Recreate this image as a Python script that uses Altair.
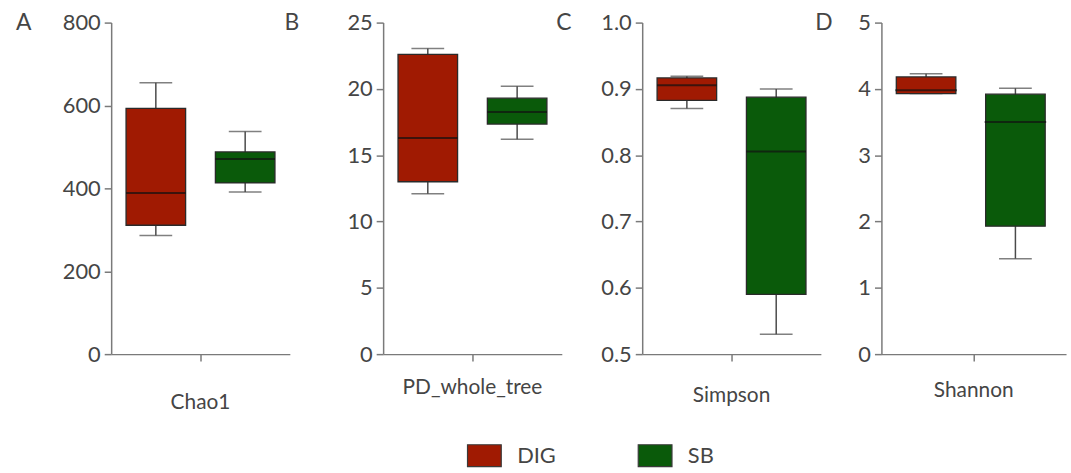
import altair as alt
import pandas as pd

groups = ["DIG", "SB"]
colors = ["#A01A02", "#0A5A0A"]

metrics = ["Chao1", "PD_whole_tree", "Simpson", "Shannon"]
letters = ["A", "B", "C", "D"]

# box-plot statistics per metric, order [DIG, SB]
chao1_low = [286, 391]
chao1_q1 = [311, 413]
chao1_med = [389, 471]
chao1_q3 = [593, 488]
chao1_high = [655, 537]

pd_low = [12.1, 16.2]
pd_q1 = [13.0, 17.35]
pd_med = [16.3, 18.25]
pd_q3 = [22.6, 19.3]
pd_high = [23.05, 20.2]

simpson_low = [0.8705, 0.53]
simpson_q1 = [0.8826, 0.590]
simpson_med = [0.9055, 0.8056]
simpson_q3 = [0.9166, 0.8875]
simpson_high = [0.919, 0.900]

shannon_low = [3.93, 1.44]
shannon_q1 = [3.93, 1.93]
shannon_med = [3.98, 3.50]
shannon_q3 = [4.18, 3.92]
shannon_high = [4.23, 4.01]

# axis settings per panel
y_domains = [[0, 800], [0, 25], [0.5, 1.0], [0, 5]]
y_ticks = [[0, 200, 400, 600, 800], [0, 5, 10, 15, 20, 25],
           [0.5, 0.6, 0.7, 0.8, 0.9, 1.0], [0, 1, 2, 3, 4, 5]]
y_formats = ["d", "d", ".1f", "d"]

stats = [
    (chao1_low, chao1_q1, chao1_med, chao1_q3, chao1_high),
    (pd_low, pd_q1, pd_med, pd_q3, pd_high),
    (simpson_low, simpson_q1, simpson_med, simpson_q3, simpson_high),
    (shannon_low, shannon_q1, shannon_med, shannon_q3, shannon_high),
]

FONT = "Lato"
TXT = "#454545"
AX = "#7a7a7a"

widths = [180, 180, 180, 186]
letter_dx = [-88, -92, -79, -58]
label_pads = [31, 16, 24, 19]
H = 334


def panel(i):
    low, q1, med, q3, high = stats[i]
    df = pd.DataFrame({
        "metric": [metrics[i]] * 2,
        "group": groups,
        "low": low, "q1": q1, "med": med, "q3": q3, "high": high,
    })
    w = widths[i]
    bw = w / 2 * 2 / 3
    yscale = alt.Scale(domain=y_domains[i], nice=False, zero=False)
    yaxis = alt.Axis(values=y_ticks[i], format=y_formats[i], grid=False, title=None,
                     labelFont=FONT, labelFontSize=22, labelColor=TXT, labelPadding=4,
                     tickSize=7, tickColor=AX, tickWidth=1.5,
                     domainColor=AX, domainWidth=1.5)
    xaxis = alt.Axis(title=None, labelAngle=0, labelFont=FONT, labelFontSize=21,
                     labelColor=TXT, labelPadding=label_pads[i], tickSize=7,
                     tickColor=AX, tickWidth=1.5, domainColor=AX, domainWidth=1.5)
    base = alt.Chart(df).encode(
        x=alt.X("metric:N", axis=xaxis,
                scale=alt.Scale(paddingInner=0, paddingOuter=0)),
        xOffset=alt.XOffset("group:N",
                            scale=alt.Scale(domain=groups, paddingInner=1 / 3,
                                            paddingOuter=1 / 6)),
    )
    whisker = base.mark_rule(color="#4a4a4a", strokeWidth=1.5).encode(
        y=alt.Y("low:Q", scale=yscale, axis=yaxis), y2="high:Q")
    cap_hi = base.mark_tick(color="#4a4a4a", thickness=1.5, size=33).encode(y="high:Q")
    cap_lo = base.mark_tick(color="#4a4a4a", thickness=1.5, size=33).encode(y="low:Q")
    box = base.mark_bar(stroke="#2a2a2a", strokeWidth=1.3, opacity=1).encode(
        y="q1:Q", y2="q3:Q",
        color=alt.Color("group:N",
                        scale=alt.Scale(domain=groups, range=colors),
                        legend=alt.Legend(
                            title=None, orient="none", direction="horizontal",
                            legendX=358, legendY=418,
                            symbolType="M-1,-0.647L1,-0.647L1,0.647L-1,0.647Z",
                            symbolSize=1156, symbolStrokeColor="#3a3a3a",
                            symbolStrokeWidth=1.2, symbolOpacity=1,
                            labelFont=FONT, labelFontSize=22, labelColor=TXT,
                            labelOffset=15, columnPadding=80)))
    median = base.mark_tick(color="#111111", thickness=2, size=bw).encode(y="med:Q")
    letter = alt.Chart(pd.DataFrame({"t": [letters[i]]})).mark_text(
        font=FONT, fontSize=23, color=TXT, baseline="middle", align="center"
    ).encode(text="t:N", x=alt.value(letter_dx[i]), y=alt.value(0))
    return alt.layer(whisker, cap_hi, cap_lo, box, median, letter).properties(
        width=w, height=H)


chart = alt.hconcat(*[panel(i) for i in range(4)], spacing=-6).properties(
    padding={"left": 16, "top": 10, "right": 5, "bottom": 3}
).configure(background="white").configure_view(strokeOpacity=0, strokeWidth=0)

chart.save("out.html", embed_options={"renderer": "svg", "actions": False})
